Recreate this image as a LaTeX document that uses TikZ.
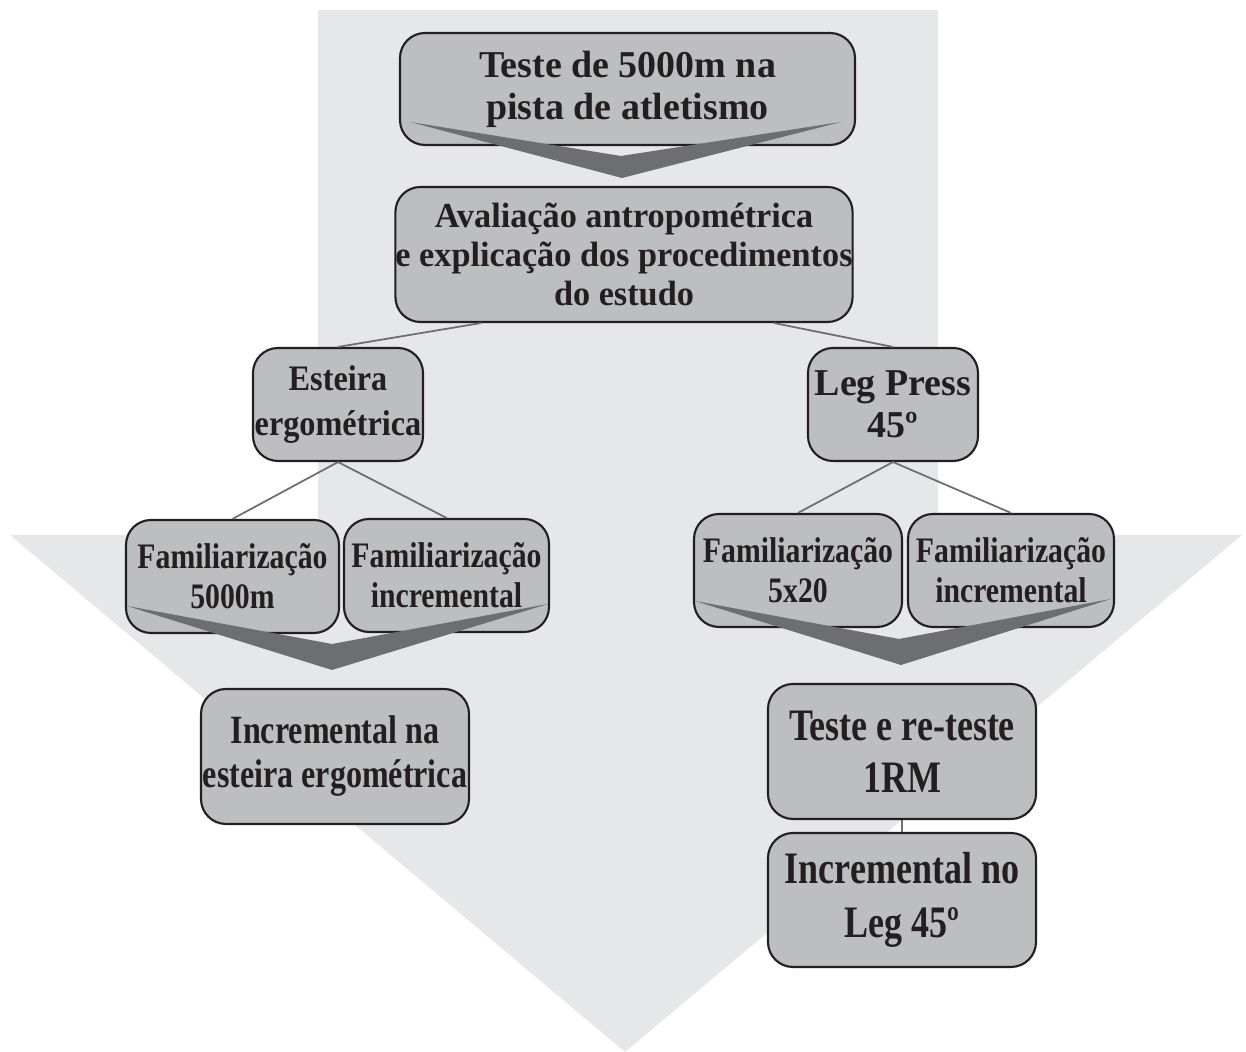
\documentclass[tikz,border=0pt]{standalone}
\usepackage{fontspec}
\setmainfont{Liberation Serif}
\newfontfamily\plainserif{Liberation Serif}
\newfontfamily\avalserif{Liberation Serif}[FakeStretch=0.975]
\newfontfamily\slimserif{Liberation Serif}[FakeStretch=0.9]
\newfontfamily\famserif{Liberation Serif}[FakeStretch=0.83]
\newfontfamily\narrowserif{Liberation Serif}[FakeStretch=0.8]
\definecolor{arrowbg}{HTML}{E6E7E8}
\definecolor{boxgray}{HTML}{BCBEC0}
\definecolor{chevgray}{HTML}{6D6E71}
\definecolor{ink}{HTML}{231F20}
\begin{document}
\begin{tikzpicture}[x=1cm,y=-1cm,
        box/.style={draw=ink,fill=boxgray,rounded corners=0.25cm,line width=0.6pt,
          inner sep=0pt,align=center,text=ink},
        link/.style={draw=chevgray,line width=0.5pt},
        chev/.style={fill=chevgray}]
        \useasboundingbox (0,0) rectangle (12.46,10.52);
        % big arrow behind everything
        \fill[arrowbg] (3.18,0.10) -- (9.38,0.10) -- (9.38,5.35) -- (12.42,5.35)
          -- (6.25,10.52) -- (0.10,5.35) -- (3.18,5.35) -- cycle;
        \node[box,minimum width=4.55cm,minimum height=1.12cm,
          font={\plainserif\bfseries\fontsize{10.8}{12}\selectfont}] (pista) at (6.275,0.89)
          {Teste de 5000m na\\pista de atletismo};
        \node[box,minimum width=4.56cm,minimum height=1.35cm,
          font={\avalserif\bfseries\fontsize{10}{11}\selectfont}] (aval) at (6.24,2.545)
          {Avaliação antropométrica\\e explicação dos procedimentos\\do estudo};
        \node[box,minimum width=1.70cm,minimum height=1.13cm,
          font={\slimserif\bfseries\fontsize{10.2}{12.6}\selectfont}] (esteira) at (3.38,4.045)
          {Esteira\\ergométrica};
        \node[box,minimum width=1.70cm,minimum height=1.13cm,
          font={\plainserif\bfseries\fontsize{10.8}{12}\selectfont}] (legpress) at (8.93,4.045)
          {Leg Press\\45º};
        \node[box,minimum width=2.13cm,minimum height=1.13cm,
          font={\famserif\bfseries\fontsize{10.2}{11.4}\selectfont}] (famcorrida) at (2.325,5.765)
          {Familiarização\\5000m};
        \node[box,minimum width=2.05cm,minimum height=1.13cm,
          font={\famserif\bfseries\fontsize{10.2}{11.4}\selectfont}] (famesteira) at (4.465,5.755)
          {Familiarização\\incremental};
        \node[box,minimum width=2.08cm,minimum height=1.13cm,
          font={\famserif\bfseries\fontsize{10.2}{11.4}\selectfont}] (famseries) at (7.98,5.705)
          {Familiarização\\5x20};
        \node[box,minimum width=2.06cm,minimum height=1.13cm,
          font={\famserif\bfseries\fontsize{10.2}{11.4}\selectfont}] (famleg) at (10.11,5.705)
          {Familiarização\\incremental};
        \node[box,minimum width=2.68cm,minimum height=1.35cm,
          font={\narrowserif\bfseries\fontsize{11.4}{12.5}\selectfont}] (incesteira) at (3.35,7.565)
          {Incremental na\\esteira ergométrica};
        \node[box,minimum width=2.68cm,minimum height=1.35cm,
          font={\narrowserif\bfseries\fontsize{12.8}{14.8}\selectfont}] (reteste) at (9.02,7.515)
          {Teste e re-teste\\1RM};
        \node[box,minimum width=2.68cm,minimum height=1.34cm,
          font={\narrowserif\bfseries\fontsize{12.8}{15.2}\selectfont}] (incleg) at (9.02,9.00)
          {Incremental no\\Leg 45º};
        % chevrons
        \fill[chev] (4.10,1.22) -- (6.22,1.78) -- (8.41,1.22) -- (6.21,1.56) -- cycle;
        \fill[chev] (1.27,6.06) -- (3.32,6.70) -- (5.48,6.04) -- (3.32,6.44) -- cycle;
        \fill[chev] (6.95,6.01) -- (9.01,6.65) -- (11.11,5.99) -- (8.99,6.39) -- cycle;
        % tree lines
        \draw[link] ([xshift=-1.43cm]aval.south) -- (esteira.north);
        \draw[link] ([xshift=1.50cm]aval.south) -- (legpress.north);
        \draw[link] (esteira.south) -- (famcorrida.north);
        \draw[link] (esteira.south) -- (famesteira.north);
        \draw[link] (legpress.south) -- (famseries.north);
        \draw[link] (legpress.south) -- (famleg.north);
        \draw[link] (reteste.south) -- (incleg.north);
\end{tikzpicture}
\end{document}
